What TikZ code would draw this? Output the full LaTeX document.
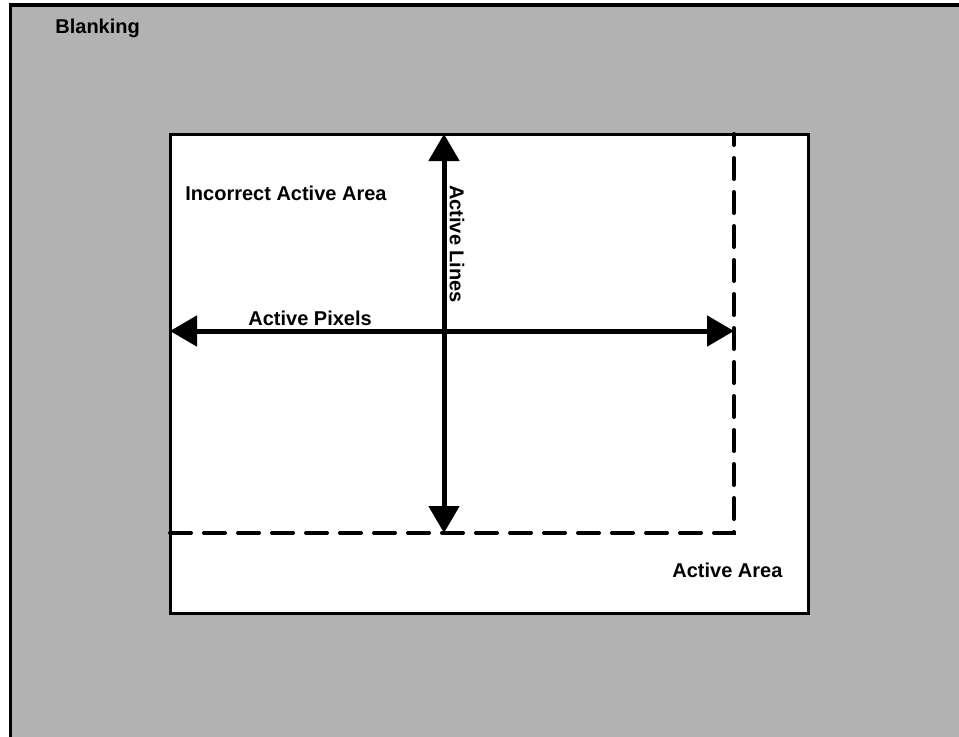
\documentclass[tikz,border=0pt]{standalone}
\usepackage{fontspec}
\setmainfont{Liberation Sans}
\usetikzlibrary{arrows.meta}
\definecolor{blankgray}{gray}{0.7}
\tikzset{
  label text/.style={font=\fontsize{10}{12}\selectfont\bfseries, inner sep=0pt},
  dim arrow/.style={line width=2.5pt, {Triangle[length=13.5pt,width=15pt]}-{Triangle[length=13.5pt,width=15pt]}},
  area dash/.style={line width=2pt, line cap=round, dash pattern=on 10.5pt off 6.5pt},
}

\begin{document}
\begin{tikzpicture}[x=0.5pt,y=-0.5pt]
\useasboundingbox (0,0) rectangle (959,736);
\clip (0,0) rectangle (959,736);

\pgfmathsetmacro{\AL}{170}
\pgfmathsetmacro{\AT}{134}
\pgfmathsetmacro{\AR}{808}
\pgfmathsetmacro{\AB}{613}
\pgfmathsetmacro{\DR}{734}
\pgfmathsetmacro{\DB}{533}

% Blanking
\draw[fill=blankgray, line width=1.75pt] (10.5,5) rectangle (990,770);
\node[label text, anchor=base west] (blank) at (55,33) {Blanking};

% Active area
\draw[fill=white, line width=1.5pt] (\AL,\AT) rectangle (\AR,\AB);
\node[label text, anchor=base west] (active) at (672,577) {Active Area};

% Incorrect active area
\coordinate (dleft) at (\AL,\DB);
\coordinate (dcorner) at (\DR,\DB);
\coordinate (dtop) at (\DR,\AT);
\draw[area dash] (dleft) -- (dcorner) -- (dtop);
\node[label text, anchor=base west] (wrong) at (185,200) {Incorrect Active Area};

% Lines and pixels
\coordinate (ltop) at (444,\AT);
\coordinate (lbot) at (444,\DB);
\coordinate (pleft) at (\AL,331);
\coordinate (pright) at (\DR,331);
\draw[dim arrow] (ltop) -- (lbot);
\draw[dim arrow] (pleft) -- (pright);
\node[label text, rotate=-90] (lines) at (457,244) {Active Lines};
\node[label text, anchor=base west] (pixels) at (248,325) {Active Pixels};
\end{tikzpicture}
\end{document}
